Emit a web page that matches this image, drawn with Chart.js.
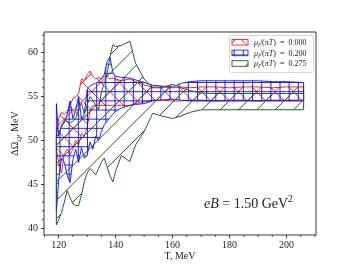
<!DOCTYPE html>
<html>
<head>
<meta charset="utf-8">
<script src="https://cdn.jsdelivr.net/npm/chart.js@4.4.0/dist/chart.umd.min.js"></script>
<style>
  html, body { margin: 0; padding: 0; background: #fff; }
</style>
</head>
<body>
<canvas id="chart" width="352" height="264"></canvas>
<script>
// temperatures, MeV
const temps = [119.2, 120, 121, 122, 123, 124, 125, 126, 127, 128, 129, 130, 131, 132, 133, 134, 135, 136, 137, 138, 139, 140,
  142, 145, 147, 150, 153, 156, 160, 163, 166, 170, 175, 180, 185, 190, 195, 200, 206];

// mu_I/(pi T) = 0.000
const redUpper = [50.5, 52.5, 53.2, 53.0, 53.3, 54.0, 54.8, 55.0, 55.3, 57.0, 56.8, 57.5, 57.9, 57.3, 57.0, 57.2, 57.0, 57.3, 57.4, 57.0, 57.1, 57.0,
  56.8, 57.0, 56.7, 56.3, 56.1, 56.1, 56.0, 56.1, 56.0, 56.1, 56.1, 56.0, 56.1, 56.1, 56.0, 56.1, 56.1];
const redLower = [49.0, 47.5, 46.3, 48.5, 49.0, 48.4, 49.0, 50.0, 49.5, 50.8, 50.5, 51.5, 53.3, 54.0, 54.0, 54.0, 54.0, 54.0, 54.0, 54.0, 54.0, 54.0,
  54.0, 54.0, 54.2, 54.4, 54.6, 54.6, 54.5, 54.5, 54.6, 54.6, 54.5, 54.6, 54.6, 54.5, 54.6, 54.6, 54.6];

// mu_I/(pi T) = 0.200
const blueUpper = [54.2, 50.5, 51.8, 52.0, 53.0, 54.5, 52.5, 53.5, 55.0, 52.5, 53.0, 55.8, 56.2, 56.4, 56.5, 56.7, 57.0, 57.5, 59.0, 59.5, 57.8, 57.3,
  57.2, 57.1, 56.9, 56.6, 56.3, 56.2, 56.1, 56.5, 56.7, 56.8, 56.8, 56.8, 56.8, 56.8, 56.7, 56.7, 56.6];
const blueLower = [41.8, 45.5, 48.0, 47.5, 46.0, 45.2, 47.8, 49.0, 47.5, 49.2, 48.0, 48.3, 49.8, 49.0, 50.5, 50.0, 51.0, 51.8, 52.2, 52.6, 53.0, 53.3,
  53.7, 54.0, 54.1, 54.2, 54.5, 54.6, 54.7, 54.6, 54.5, 54.5, 54.5, 54.5, 54.5, 54.5, 54.5, 54.5, 54.5];

// mu_I/(pi T) = 0.275
const greenUpper = [50.3, 50.8, 51.5, 52.3, 52.2, 52.0, 52.2, 52.6, 53.5, 54.3, 53.0, 54.0, 55.0, 54.6, 54.0, 53.5, 55.5, 56.5, 57.5, 59.5, 60.9, 60.7,
  60.8, 61.3, 58.8, 57.0, 56.0, 56.0, 56.4, 56.0, 55.7, 55.4, 55.35, 55.35, 55.35, 55.35, 55.35, 55.35, 55.35];
const greenLower = [40.4, 41.0, 41.8, 43.0, 44.3, 43.5, 42.8, 42.6, 42.6, 43.8, 45.3, 46.3, 46.8, 46.5, 46.1, 46.8, 47.5, 48.0, 47.0, 46.0, 45.3, 46.5,
  48.3, 47.6, 49.5, 51.0, 53.1, 52.8, 52.5, 52.8, 53.2, 53.5, 53.5, 53.5, 53.5, 53.5, 53.5, 53.5, 53.5];

const xTicks = [120, 140, 160, 180, 200];
const yTicks = [40, 45, 50, 55, 60];
const legendLabels = ['0.000', '0.200', '0.275'];

const SERIF = '"Liberation Serif", "DejaVu Serif", serif';
const RED = 'rgba(255,0,0,0.85)';
const BLUE = 'rgba(0,0,255,0.85)';
const GREEN = '#245f24';

const ctx = document.getElementById('chart').getContext('2d');

// matplotlib-like hatch tile, 55px per hatch unit
function hatch(kind, color, ox, oy) {
  const u = 55;
  const c = document.createElement('canvas');
  c.width = u; c.height = u;
  const g = c.getContext('2d');
  g.strokeStyle = color;
  g.lineWidth = 1.0;
  g.beginPath();
  if (kind === '/' || kind === 'x') {
    for (let k = -1; k <= 7; k++) {
      const cc = k * u / 3;
      g.moveTo(cc + 10, -10); g.lineTo(cc - u - 10, u + 10);
    }
  }
  if (kind === 'x') {
    for (let k = -4; k <= 4; k++) {
      const cc = k * u / 3;
      g.moveTo(cc - 10, -10); g.lineTo(cc + u + 10, u + 10);
    }
  }
  if (kind === '+') {
    for (let k = 0; k <= 6; k++) {
      const p = k * u / 6;
      g.moveTo(-1, p); g.lineTo(u + 1, p);
      g.moveTo(p, -1); g.lineTo(p, u + 1);
    }
  }
  g.stroke();
  const pat = ctx.createPattern(c, 'repeat');
  pat.setTransform(new DOMMatrix([1, 0, 0, 1, ox, oy]));
  return pat;
}

const redHatch = hatch('x', RED, 0, 0);
const blueHatch = hatch('+', BLUE, 5, 0);
const greenHatch = hatch('/', GREEN, 0, 0);

function band(upper, lower, color, pattern, order) {
  const pts = arr => temps.map((t, i) => ({ x: t, y: arr[i] }));
  const n = temps.length - 1;
  const line = { borderColor: color, borderWidth: 1, pointRadius: 0, tension: 0, order };
  return [
    Object.assign({ data: pts(upper), fill: '+1', backgroundColor: pattern }, line),
    Object.assign({ data: pts(lower), fill: false }, line),
    Object.assign({
      data: [{ x: temps[0], y: lower[0] }, { x: temps[0], y: upper[0] }, { x: temps[n], y: null },
             { x: temps[n], y: lower[n] }, { x: temps[n], y: upper[n] }],
      fill: false
    }, line)
  ];
}

function rich(c, parts, x, y, size) {
  for (const [t, it, dy, sc] of parts) {
    c.font = (it ? 'italic ' : '') + (size * (sc || 1)) + 'px ' + SERIF;
    c.fillText(t, x, y + (dy || 0) * size);
    x += c.measureText(t).width;
  }
  return x;
}

const decor = {
  id: 'decor',
  afterDraw(chart) {
    const c = chart.ctx;
    const a = chart.chartArea;
    const xs = chart.scales.x, ys = chart.scales.y;
    c.save();
    // frame
    c.strokeStyle = '#222';
    c.lineWidth = 0.9;
    c.strokeRect(a.left, a.top, a.right - a.left, a.bottom - a.top);
    // minor ticks
    c.beginPath();
    for (let v = 115; v <= 210; v += 5) {
      if (v % 20 === 0) continue;
      const px = xs.getPixelForValue(v);
      c.moveTo(px, a.bottom); c.lineTo(px, a.bottom + 1.8);
    }
    for (let v = 40; v <= 62; v += 1) {
      if (v % 5 === 0) continue;
      const py = ys.getPixelForValue(v);
      c.moveTo(a.left, py); c.lineTo(a.left - 1.8, py);
    }
    c.stroke();

    // axis titles
    c.fillStyle = '#222';
    c.textBaseline = 'alphabetic';
    c.font = '10px ' + SERIF;
    c.textAlign = 'center';
    c.fillText('T, MeV', (a.left + a.right) / 2, 259);
    c.textAlign = 'left';
    c.save();
    c.translate(18, (a.top + a.bottom) / 2);
    c.rotate(-Math.PI / 2);
    const yParts = [['ΔΩ', false], ['Q', true, 0.25, 0.7], [', MeV', false]];
    let w = 0;
    for (const [t, it, dy, sc] of yParts) { c.font = (it ? 'italic ' : '') + (10 * (sc || 1)) + 'px ' + SERIF; w += c.measureText(t).width; }
    rich(c, yParts, -w / 2, 0, 10);
    c.restore();

    // annotation
    rich(c, [['eB', true], [' = 1.50 GeV', false], ['2', false, -0.4, 0.7]], 204, 208, 14);

    // legend
    const lx = 229, ly = 35, lw = 84, lh = 37;
    c.beginPath();
    c.roundRect(lx + 0.5, ly + 0.5, lw, lh, 2);
    c.fillStyle = 'rgba(255,255,255,0.8)';
    c.fill();
    c.strokeStyle = '#cccccc';
    c.lineWidth = 0.8;
    c.stroke();
    const pats = [redHatch, blueHatch, greenHatch];
    const cols = [RED, BLUE, GREEN];
    legendLabels.forEach((lab, i) => {
      const cy = 42.3 + i * 10.6;
      c.fillStyle = pats[i];
      c.fillRect(232, cy - 2.8, 16, 5.6);
      c.strokeStyle = cols[i];
      c.lineWidth = 0.9;
      c.strokeRect(232, cy - 2.8, 16, 5.6);
      c.fillStyle = '#222';
      rich(c, [['μ', true], ['I', true, 0.25, 0.7], ['/(', false], ['π', true], ['T', true], [')  =  ' + lab, false]], 254, cy + 2.6, 8);
    });
    c.restore();
  }
};

new Chart(ctx, {
  type: 'line',
  data: {
    datasets: [
      ...band(redUpper, redLower, RED, redHatch, 3),
      ...band(blueUpper, blueLower, BLUE, blueHatch, 2),
      ...band(greenUpper, greenLower, GREEN, greenHatch, 1)
    ]
  },
  options: {
    responsive: false,
    animation: false,
    devicePixelRatio: 1,
    layout: { padding: { top: 32, right: 36, left: 0, bottom: 0 } },
    plugins: { legend: { display: false }, tooltip: { enabled: false } },
    scales: {
      x: {
        type: 'linear', min: 114.85, max: 210.35,
        afterFit: s => { s.height = 29; },
        afterBuildTicks: s => { s.ticks = xTicks.map(v => ({ value: v })); },
        ticks: { font: { family: SERIF, size: 10 }, color: '#222', padding: 1, maxRotation: 0, autoSkip: false },
        grid: { drawOnChartArea: false, tickLength: 3, color: '#222', tickWidth: 0.9 },
        border: { display: false }
      },
      y: {
        type: 'linear', min: 39.25, max: 62.35,
        afterFit: s => { s.width = 44; },
        afterBuildTicks: s => { s.ticks = yTicks.map(v => ({ value: v })); },
        ticks: { font: { family: SERIF, size: 10 }, color: '#222', padding: 3, autoSkip: false },
        grid: { drawOnChartArea: false, tickLength: 3, color: '#222', tickWidth: 0.9 },
        border: { display: false }
      }
    }
  },
  plugins: [decor]
});
</script>
</body>
</html>
